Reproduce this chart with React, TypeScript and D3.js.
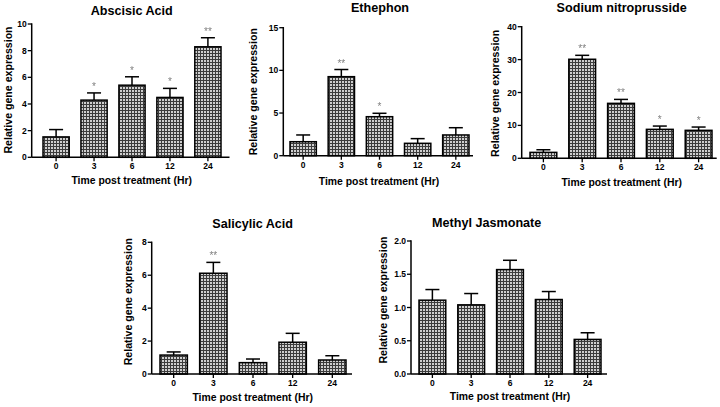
import React from 'react';
import * as d3 from 'd3';

// time points shared by every panel
const hours = ['0', '3', '6', '12', '24'];

const abaMean = [1.53, 4.29, 5.41, 4.49, 8.29];
const abaErr = [0.55, 0.54, 0.63, 0.68, 0.68];
const abaSig = ['', '*', '*', '*', '**'];
const abaTicks = [0, 2, 4, 6, 8, 10];

const ethMean = [1.64, 9.26, 4.57, 1.45, 2.43];
const ethErr = [0.79, 0.84, 0.4, 0.55, 0.85];
const ethSig = ['', '**', '*', '', ''];
const ethTicks = [0, 5, 10, 15];

const snpMean = [1.8, 30.1, 16.7, 8.8, 8.5];
const snpErr = [0.8, 1.2, 1.2, 1.0, 1.0];
const snpSig = ['', '**', '**', '*', '*'];
const snpTicks = [0, 10, 20, 30, 40];

const saMean = [1.15, 6.12, 0.69, 1.93, 0.85];
const saErr = [0.19, 0.66, 0.22, 0.54, 0.26];
const saSig = ['', '**', '', '', ''];
const saTicks = [0, 2, 4, 6, 8];

const mjMean = [1.11, 1.04, 1.57, 1.12, 0.52];
const mjErr = [0.16, 0.17, 0.14, 0.12, 0.1];
const mjSig = ['', '', '', '', ''];
const mjTicks = [0, 0.5, 1, 1.5, 2];

const FONT = '"Liberation Sans", Arial, sans-serif';

type PanelProps = {
  title: string;
  mean: number[];
  err: number[];
  sig: string[];
  ticks: number[];
  fmt?: (d: number) => string;
  // layout
  axisX: number;
  axisEnd: number;
  barLeft: number;
  barRight: number;
  yTop: number;
  yBottom: number;
  titleX: number;
  titleY: number;
  yLabelX: number;
  yLabelY: number;
  xLabelX: number;
  xLabelY: number;
};

const Panel = (p: PanelProps) => {
  const fmt = p.fmt || ((d: number) => String(d));
  const x = d3.scaleBand<string>()
    .domain(hours)
    .range([p.barLeft, p.barRight])
    .paddingInner(0.31)
    .paddingOuter(0);
  const y = d3.scaleLinear()
    .domain([p.ticks[0], p.ticks[p.ticks.length - 1]])
    .range([p.yBottom, p.yTop]);
  const bw = x.bandwidth();
  const cap = 14;

  return (
    <g fontFamily={FONT} fontWeight="bold">
      <text x={p.titleX} y={p.titleY} textAnchor="middle" dominantBaseline="central" fontSize={12.6}>{p.title}</text>

      {/* bars */}
      {hours.map((h, i) => {
        const x0 = x(h) as number;
        const cx = x0 + bw / 2;
        const top = y(p.mean[i]);
        const et = y(p.mean[i] + p.err[i]);
        return (
          <g key={h}>
            <line x1={cx} x2={cx} y1={top} y2={et} stroke="#000" strokeWidth={1.5} />
            <line x1={cx - cap / 2} x2={cx + cap / 2} y1={et} y2={et} stroke="#000" strokeWidth={1.5} />
            <rect x={x0} y={top} width={bw} height={p.yBottom - top} fill="url(#chk)" stroke="#000" strokeWidth={1.5} />
          </g>
        );
      })}

      {/* significance marks, drawn through a no-op filter so they stay grey */}
      <g filter="url(#flat)">
        {hours.map((h, i) => p.sig[i] ? (
          <text key={h} x={(x(h) as number) + bw / 2} y={y(p.mean[i] + p.err[i]) - 3}
            textAnchor="middle" fontSize={10} fontWeight="normal" fill="#808080">{p.sig[i]}</text>
        ) : null)}
      </g>

      {/* y axis */}
      <line x1={p.axisX} x2={p.axisX} y1={p.yTop - 0.7} y2={p.yBottom} stroke="#000" strokeWidth={1.5} />
      {p.ticks.map(t => (
        <g key={t}>
          <line x1={p.axisX - 4} x2={p.axisX} y1={y(t)} y2={y(t)} stroke="#000" strokeWidth={1.3} />
          <text x={p.axisX - 5} y={y(t)} textAnchor="end" dominantBaseline="central" fontSize={8.5}>{fmt(t)}</text>
        </g>
      ))}

      {/* x axis */}
      <line x1={p.axisX} x2={p.axisEnd} y1={p.yBottom} y2={p.yBottom} stroke="#000" strokeWidth={1.5} />
      {hours.map(h => {
        const cx = (x(h) as number) + bw / 2;
        return (
          <g key={h}>
            <line x1={cx} x2={cx} y1={p.yBottom} y2={p.yBottom + 4} stroke="#000" strokeWidth={1.3} />
            <text x={cx} y={p.yBottom + 9} textAnchor="middle" dominantBaseline="central" fontSize={8.5}>{h}</text>
          </g>
        );
      })}

      <text x={p.xLabelX} y={p.xLabelY} textAnchor="middle" dominantBaseline="central" fontSize={10.4}>Time post treatment (Hr)</text>
      <text transform={`translate(${p.yLabelX},${p.yLabelY}) rotate(-90)`} textAnchor="middle" dominantBaseline="central" fontSize={10.6}>Relative gene expression</text>
    </g>
  );
};

const App = () => (
  <svg width={720} height={407} style={{ position: 'absolute', left: 0, top: 0, background: '#fff' }}>
    <defs>
      <pattern id="chk" width={3} height={3} patternUnits="userSpaceOnUse">
        <rect width={3} height={3} fill="#3c3c3c" />
        <rect width={2} height={2} fill="#cfcfcf" />
      </pattern>
      <filter id="flat" x="-50%" y="-50%" width="200%" height="200%">
        <feOffset dx={0} dy={0} />
      </filter>
    </defs>
    <rect width={720} height={407} fill="#fff" />

    <Panel title="Abscisic Acid" mean={abaMean} err={abaErr} sig={abaSig} ticks={abaTicks}
      axisX={31.7} axisEnd={229.5} barLeft={43} barRight={221} yTop={24} yBottom={157.3}
      titleX={131.7} titleY={11.3} yLabelX={8.3} yLabelY={90} xLabelX={131.7} xLabelY={180} />

    <Panel title="Ethephon" mean={ethMean} err={ethErr} sig={ethSig} ticks={ethTicks}
      axisX={283.3} axisEnd={473} barLeft={290} barRight={469} yTop={27.7} yBottom={155.7}
      titleX={380} titleY={8.3} yLabelX={253.3} yLabelY={91.7} xLabelX={379} xLabelY={181.7} />

    <Panel title="Sodium nitroprusside" mean={snpMean} err={snpErr} sig={snpSig} ticks={snpTicks}
      axisX={521.7} axisEnd={716.7} barLeft={530} barRight={712} yTop={26.7} yBottom={158.3}
      titleX={621.7} titleY={8.3} yLabelX={495} yLabelY={93.3} xLabelX={621.7} xLabelY={182.7} />

    <Panel title="Salicylic Acid" mean={saMean} err={saErr} sig={saSig} ticks={saTicks}
      axisX={151.7} axisEnd={352} barLeft={160} barRight={346} yTop={242.3} yBottom={374}
      titleX={252.7} titleY={224} yLabelX={128.3} yLabelY={301.7} xLabelX={252.7} xLabelY={397.3} />

    <Panel title="Methyl Jasmonate" mean={mjMean} err={mjErr} sig={mjSig} ticks={mjTicks}
      fmt={d3.format('.1f')}
      axisX={411} axisEnd={607} barLeft={419} barRight={601} yTop={241} yBottom={374}
      titleX={486.7} titleY={223.3} yLabelX={383} yLabelY={300} xLabelX={510} xLabelY={396.7} />
  </svg>
);

export default App;
